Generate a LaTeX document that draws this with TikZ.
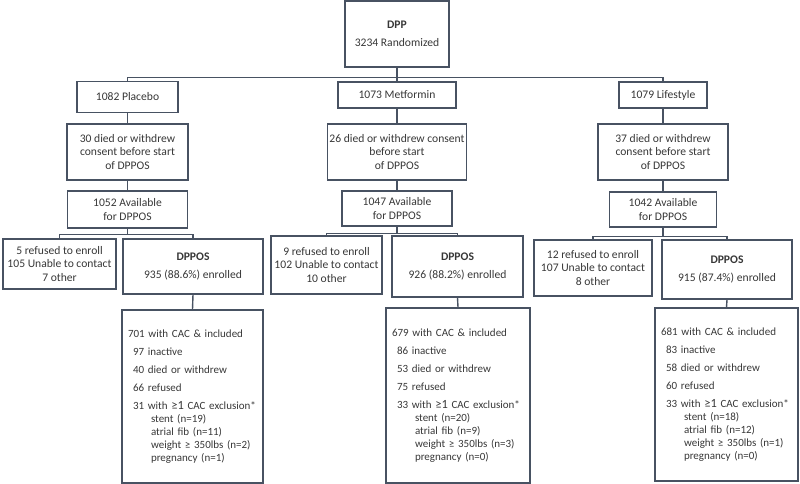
\documentclass[tikz,border=0pt]{standalone}
\usepackage{fontspec}
\setmainfont{Carlito}
\usepackage{tikz}
\usetikzlibrary{positioning}

\definecolor{boxline}{RGB}{72,82,98}
\definecolor{boxtext}{RGB}{55,55,55}

\newcommand{\cacitems}[9]{%
\mbox{#1 with CAC \& included}\\[5pt]
\mbox{\hspace*{5pt}#2 inactive}\\[5pt]
\mbox{\hspace*{5pt}#3 died or withdrew}\\[5pt]
\mbox{\hspace*{5pt}#4 refused}\\[5pt]
\mbox{\hspace*{5pt}#5 with {\fontsize{12.5}{13}\selectfont ≥1} CAC exclusion*}\\
\mbox{\hspace*{23pt}stent (n=#6)}\\
\mbox{\hspace*{23pt}atrial fib (n=#7)}\\
\mbox{\hspace*{23pt}weight ≥ 350lbs (n=#8)}\\
\mbox{\hspace*{23pt}pregnancy (n=#9)}}

\begin{document}
\begin{tikzpicture}[x=1pt, y=-1pt,
    box/.style={draw=boxline, line width=1.4pt, align=center, inner sep=2pt,
      font=\fontsize{11.6}{13.3}\selectfont, text=boxtext},
    cacbox/.style={box, align=left, inner xsep=6pt,
      font=\fontsize{11}{13}\selectfont}]
  \useasboundingbox (0,0) rectangle (800,484);

  \node[box, minimum width=104pt, minimum height=66pt] (dpp) at (397,34)
    {\textbf{DPP}\\[5pt]3234 Randomized};

  \node[box, minimum width=101pt, minimum height=31pt] (plac) at (127.5,97) {1082 Placebo};
  \node[box, minimum width=118pt, minimum height=26pt] (metf) at (397,95) {1073 Metformin};
  \node[box, minimum width=88pt, minimum height=26pt] (life) at (663,95) {1079 Lifestyle};

  \node[box, minimum width=121pt, minimum height=56pt] (pdied) at (127.5,152)
    {30 died or withdrew\\consent before start\\of DPPOS};
  \node[box, minimum width=138pt, minimum height=56pt] (mdied) at (397,152)
    {26 died or withdrew consent\\before start\\of DPPOS};
  \node[box, minimum width=130pt, minimum height=56pt] (ldied) at (663,152)
    {37 died or withdrew\\consent before start\\of DPPOS};

  \node[box, minimum width=120pt, minimum height=37pt] (pavail) at (127.5,209.5) {1052 Available\\for DPPOS};
  \node[box, minimum width=110pt, minimum height=35pt] (mavail) at (397,208.5) {1047 Available\\for DPPOS};
  \node[box, minimum width=107pt, minimum height=35pt] (lavail) at (663,209.5) {1042 Available\\for DPPOS};

  \node[box, minimum width=113pt, minimum height=50pt] (pref) at (59.5,264)
    {5 refused to enroll\\105 Unable to contact\\7 other};
  \node[box, minimum width=140pt, minimum height=55pt] (pdppos) at (193,266.5)
    {\textbf{DPPOS}\\[5pt]935 (88.6\%) enrolled};
  \node[box, minimum width=111pt, minimum height=58pt] (mref) at (326.5,265)
    {9 refused to enroll\\102 Unable to contact\\10 other};
  \node[box, minimum width=131pt, minimum height=61pt] (mdppos) at (457.5,266.5)
    {\textbf{DPPOS}\\[5pt]926 (88.2\%) enrolled};
  \node[box, minimum width=118pt, minimum height=56pt] (lref) at (593,268)
    {12 refused to enroll\\107 Unable to contact\\8 other};
  \node[box, minimum width=130pt, minimum height=59pt] (ldppos) at (727,269.5)
    {\textbf{DPPOS}\\[5pt]915 (87.4\%) enrolled};

  \node[cacbox, text width=129pt, minimum height=173pt] (pcac) at (192.5,396.5)
    {\cacitems{701}{97}{40}{66}{31}{19}{11}{2}{1}};
  \node[cacbox, text width=132pt, minimum height=175pt] (mcac) at (458,395.5)
    {\cacitems{679}{86}{53}{75}{33}{20}{9}{3}{0}};
  \node[cacbox, text width=131pt, minimum height=173pt] (lcac) at (726.5,394.5)
    {\cacitems{681}{83}{58}{60}{33}{18}{12}{1}{0}};

  % connectors
  \path (dpp.south) ++(0,10) coordinate (rbar);
  \path (pavail.south) ++(0,6) coordinate (pbar);
  \path (mavail.south) ++(0,7) coordinate (mbar);
  \path (lavail.south) ++(0,9) coordinate (lbar);
  \begin{scope}[draw=boxline, line width=1.4pt]
    \draw (dpp.south) -- (rbar) -- (metf.north);
    \draw (plac.north) |- (rbar) -| (life.north);
    \draw (plac.south) -- (pdied.north);
    \draw (metf.south) -- (mdied.north);
    \draw (life.south) -- (ldied.north);
    \draw (pdied.south) -- (pavail.north);
    \draw (mdied.south) -- (mavail.north);
    \draw (ldied.south) -- (lavail.north);
    \draw (pavail.south) -- (pbar);
    \draw (mavail.south) -- (mbar);
    \draw (lavail.south) -- (lbar);
    \draw (pref.north) |- (pbar) -| (pdppos.north);
    \draw (mref.north) |- (mbar) -| (mdppos.north);
    \draw (lref.north) |- (lbar) -| (ldppos.north);
    \draw (pdppos.south) -- (pcac.north);
    \draw (mdppos.south) -- (mcac.north);
    \draw (ldppos.south) -- (lcac.north);
  \end{scope}
\end{tikzpicture}
\end{document}
